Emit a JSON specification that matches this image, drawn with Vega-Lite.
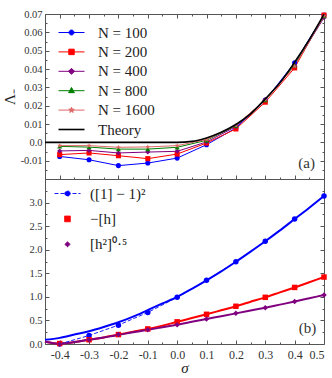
{
  "$schema": "https://vega.github.io/schema/vega-lite/v6.json",
  "padding": {"left": 1, "top": 8, "right": 4, "bottom": 0},
  "spacing": 0,
  "bounds": "flush",
  "config": {
    "font": "Liberation Serif",
    "view": {"stroke": "#555", "strokeWidth": 1},
    "axis": {"grid": false, "domain": false, "tickColor": "#555", "tickWidth": 1, "labelFont": "Liberation Serif", "titleFont": "Liberation Serif", "labelColor": "#333", "titleColor": "#222", "titleFontWeight": "normal"},
    "legend": {"labelFont": "Liberation Serif", "labelColor": "#222"},
    "text": {"font": "Liberation Serif"}
  },
  "resolve": {"scale": {"color": "independent", "shape": "independent"}, "legend": {"color": "independent", "shape": "independent"}},
  "datasets": {
    "top": [
      {"s": -0.4, "series": "N = 100", "v": -0.0077}, {"s": -0.3, "series": "N = 100", "v": -0.0095}, {"s": -0.2, "series": "N = 100", "v": -0.0127}, {"s": -0.1, "series": "N = 100", "v": -0.0113}, {"s": 0.0, "series": "N = 100", "v": -0.0086}, {"s": 0.1, "series": "N = 100", "v": -0.0013}, {"s": 0.2, "series": "N = 100", "v": 0.0078}, {"s": 0.3, "series": "N = 100", "v": 0.023}, {"s": 0.4, "series": "N = 100", "v": 0.0434}, {"s": 0.5, "series": "N = 100", "v": 0.0694},
      {"s": -0.4, "series": "N = 200", "v": -0.0067}, {"s": -0.3, "series": "N = 200", "v": -0.0058}, {"s": -0.2, "series": "N = 200", "v": -0.0073}, {"s": -0.1, "series": "N = 200", "v": -0.0089}, {"s": 0.0, "series": "N = 200", "v": -0.0064}, {"s": 0.1, "series": "N = 200", "v": -0.0004}, {"s": 0.2, "series": "N = 200", "v": 0.0073}, {"s": 0.3, "series": "N = 200", "v": 0.0219}, {"s": 0.4, "series": "N = 200", "v": 0.0406}, {"s": 0.5, "series": "N = 200", "v": 0.0694},
      {"s": -0.4, "series": "N = 400", "v": -0.0047}, {"s": -0.3, "series": "N = 400", "v": -0.0044}, {"s": -0.2, "series": "N = 400", "v": -0.0058}, {"s": -0.1, "series": "N = 400", "v": -0.0053}, {"s": 0.0, "series": "N = 400", "v": -0.0049}, {"s": 0.1, "series": "N = 400", "v": 0.0002}, {"s": 0.2, "series": "N = 400", "v": 0.0086}, {"s": 0.3, "series": "N = 400", "v": 0.0233}, {"s": 0.4, "series": "N = 400", "v": 0.042}, {"s": 0.5, "series": "N = 400", "v": 0.068},
      {"s": -0.4, "series": "N = 800", "v": -0.0022}, {"s": -0.3, "series": "N = 800", "v": -0.0026}, {"s": -0.2, "series": "N = 800", "v": -0.0037}, {"s": -0.1, "series": "N = 800", "v": -0.0037}, {"s": 0.0, "series": "N = 800", "v": -0.0027}, {"s": 0.1, "series": "N = 800", "v": 0.0011}, {"s": 0.2, "series": "N = 800", "v": 0.0091}, {"s": 0.3, "series": "N = 800", "v": 0.023}, {"s": 0.4, "series": "N = 800", "v": 0.042}, {"s": 0.5, "series": "N = 800", "v": 0.0689},
      {"s": -0.4, "series": "N = 1600", "v": -0.0018}, {"s": -0.3, "series": "N = 1600", "v": -0.0018}, {"s": -0.2, "series": "N = 1600", "v": -0.0027}, {"s": -0.1, "series": "N = 1600", "v": -0.0025}, {"s": 0.0, "series": "N = 1600", "v": -0.0018}, {"s": 0.1, "series": "N = 1600", "v": 0.0015}, {"s": 0.2, "series": "N = 1600", "v": 0.0092}, {"s": 0.3, "series": "N = 1600", "v": 0.0232}, {"s": 0.4, "series": "N = 1600", "v": 0.0415}, {"s": 0.5, "series": "N = 1600", "v": 0.069}
    ],
    "theory": [
      {"s": -0.45, "series": "Theory", "v": 0}, {"s": -0.3, "series": "Theory", "v": 0}, {"s": -0.15, "series": "Theory", "v": 0}, {"s": 0.0, "series": "Theory", "v": 0},
      {"s": 0.05, "series": "Theory", "v": 0.0005}, {"s": 0.1, "series": "Theory", "v": 0.0024}, {"s": 0.15, "series": "Theory", "v": 0.0055}, {"s": 0.2, "series": "Theory", "v": 0.0097}, {"s": 0.25, "series": "Theory", "v": 0.0155}, {"s": 0.3, "series": "Theory", "v": 0.0237}, {"s": 0.35, "series": "Theory", "v": 0.0325}, {"s": 0.4, "series": "Theory", "v": 0.0437}, {"s": 0.45, "series": "Theory", "v": 0.056}, {"s": 0.5, "series": "Theory", "v": 0.0698}
    ],
    "bpts": [
      {"s": -0.4, "series": "([1] − 1)²", "v": 0.0}, {"s": -0.3, "series": "([1] − 1)²", "v": 0.18}, {"s": -0.2, "series": "([1] − 1)²", "v": 0.4}, {"s": -0.1, "series": "([1] − 1)²", "v": 0.67}, {"s": 0.0, "series": "([1] − 1)²", "v": 0.99}, {"s": 0.1, "series": "([1] − 1)²", "v": 1.35}, {"s": 0.2, "series": "([1] − 1)²", "v": 1.745}, {"s": 0.3, "series": "([1] − 1)²", "v": 2.18}, {"s": 0.4, "series": "([1] − 1)²", "v": 2.65}, {"s": 0.5, "series": "([1] − 1)²", "v": 3.14},
      {"s": -0.4, "series": "−[h]", "v": 0.01}, {"s": -0.3, "series": "−[h]", "v": 0.09}, {"s": -0.2, "series": "−[h]", "v": 0.2}, {"s": -0.1, "series": "−[h]", "v": 0.32}, {"s": 0.0, "series": "−[h]", "v": 0.47}, {"s": 0.1, "series": "−[h]", "v": 0.63}, {"s": 0.2, "series": "−[h]", "v": 0.8}, {"s": 0.3, "series": "−[h]", "v": 0.99}, {"s": 0.4, "series": "−[h]", "v": 1.2}, {"s": 0.5, "series": "−[h]", "v": 1.42},
      {"s": -0.4, "series": "[h²]⁰·⁵", "v": 0.0}, {"s": -0.3, "series": "[h²]⁰·⁵", "v": 0.09}, {"s": -0.2, "series": "[h²]⁰·⁵", "v": 0.2}, {"s": -0.1, "series": "[h²]⁰·⁵", "v": 0.3}, {"s": 0.0, "series": "[h²]⁰·⁵", "v": 0.41}, {"s": 0.1, "series": "[h²]⁰·⁵", "v": 0.53}, {"s": 0.2, "series": "[h²]⁰·⁵", "v": 0.65}, {"s": 0.3, "series": "[h²]⁰·⁵", "v": 0.77}, {"s": 0.4, "series": "[h²]⁰·⁵", "v": 0.9}, {"s": 0.5, "series": "[h²]⁰·⁵", "v": 1.04}
    ],
    "bcur": [
      {"s": -0.45, "series": "A", "v": 0.09}, {"s": -0.4, "series": "A", "v": 0.13}, {"s": -0.35, "series": "A", "v": 0.2}, {"s": -0.3, "series": "A", "v": 0.27}, {"s": -0.25, "series": "A", "v": 0.36}, {"s": -0.2, "series": "A", "v": 0.46}, {"s": -0.15, "series": "A", "v": 0.58}, {"s": -0.1, "series": "A", "v": 0.72}, {"s": -0.05, "series": "A", "v": 0.86}, {"s": 0.0, "series": "A", "v": 1.0}, {"s": 0.05, "series": "A", "v": 1.17}, {"s": 0.1, "series": "A", "v": 1.35}, {"s": 0.15, "series": "A", "v": 1.54}, {"s": 0.2, "series": "A", "v": 1.745}, {"s": 0.25, "series": "A", "v": 1.96}, {"s": 0.3, "series": "A", "v": 2.18}, {"s": 0.35, "series": "A", "v": 2.41}, {"s": 0.4, "series": "A", "v": 2.65}, {"s": 0.45, "series": "A", "v": 2.89}, {"s": 0.5, "series": "A", "v": 3.14},
      {"s": -0.45, "series": "B", "v": 0.05}, {"s": -0.4, "series": "B", "v": 0.01}, {"s": -0.35, "series": "B", "v": 0.04}, {"s": -0.3, "series": "B", "v": 0.09}, {"s": -0.25, "series": "B", "v": 0.14}, {"s": -0.2, "series": "B", "v": 0.2}, {"s": -0.15, "series": "B", "v": 0.26}, {"s": -0.1, "series": "B", "v": 0.32}, {"s": -0.05, "series": "B", "v": 0.39}, {"s": 0.0, "series": "B", "v": 0.47}, {"s": 0.05, "series": "B", "v": 0.55}, {"s": 0.1, "series": "B", "v": 0.63}, {"s": 0.15, "series": "B", "v": 0.715}, {"s": 0.2, "series": "B", "v": 0.8}, {"s": 0.25, "series": "B", "v": 0.895}, {"s": 0.3, "series": "B", "v": 0.99}, {"s": 0.35, "series": "B", "v": 1.095}, {"s": 0.4, "series": "B", "v": 1.2}, {"s": 0.45, "series": "B", "v": 1.31}, {"s": 0.5, "series": "B", "v": 1.42},
      {"s": -0.45, "series": "C", "v": 0.05}, {"s": -0.4, "series": "C", "v": 0.01}, {"s": -0.35, "series": "C", "v": 0.04}, {"s": -0.3, "series": "C", "v": 0.09}, {"s": -0.25, "series": "C", "v": 0.14}, {"s": -0.2, "series": "C", "v": 0.19}, {"s": -0.15, "series": "C", "v": 0.25}, {"s": -0.1, "series": "C", "v": 0.3}, {"s": -0.05, "series": "C", "v": 0.355}, {"s": 0.0, "series": "C", "v": 0.41}, {"s": 0.05, "series": "C", "v": 0.47}, {"s": 0.1, "series": "C", "v": 0.53}, {"s": 0.15, "series": "C", "v": 0.59}, {"s": 0.2, "series": "C", "v": 0.65}, {"s": 0.25, "series": "C", "v": 0.71}, {"s": 0.3, "series": "C", "v": 0.77}, {"s": 0.35, "series": "C", "v": 0.835}, {"s": 0.4, "series": "C", "v": 0.9}, {"s": 0.45, "series": "C", "v": 0.97}, {"s": 0.5, "series": "C", "v": 1.04}
    ]
  },
  "vconcat": [
    {
      "width": 279, "height": 165,
      "resolve": {"axis": {"x": "independent", "y": "independent"}},
      "layer": [
        {"data": {"name": "top"}, "mark": {"type": "point", "opacity": 0},
         "encoding": {
           "x": {"field": "s", "type": "quantitative", "scale": {"domain": [-0.45, 0.5], "nice": false, "zero": false},
                 "axis": {"orient": "bottom", "labels": false, "title": null, "values": [-0.4, -0.3, -0.2, -0.1, 0, 0.1, 0.2, 0.3, 0.4, 0.5], "tickSize": -4}},
           "y": {"field": "v", "type": "quantitative", "scale": {"domain": [-0.02, 0.07], "nice": false, "zero": false},
                 "axis": {"orient": "left", "title": "Λ₋", "titleFont": "Liberation Serif", "titleFontSize": 15, "titlePadding": 3, "values": [-0.01, 0, 0.01, 0.02, 0.03, 0.04, 0.05, 0.06, 0.07], "tickSize": -4, "labelFont": "Liberation Serif", "labelFontSize": 10.5, "labelPadding": 7, "labelExpr": "datum.value == 0 ? '0.0' : replace(format(datum.value, '.2f'), '−', '-')"}}
         }},
        {"data": {"name": "top"}, "mark": {"type": "point", "opacity": 0},
         "encoding": {
           "x": {"field": "s", "type": "quantitative", "axis": {"orient": "top", "labels": false, "title": null, "values": [-0.4, -0.3, -0.2, -0.1, 0, 0.1, 0.2, 0.3, 0.4, 0.5], "tickSize": -4}},
           "y": {"field": "v", "type": "quantitative", "axis": {"orient": "right", "labels": false, "title": null, "values": [-0.01, 0, 0.01, 0.02, 0.03, 0.04, 0.05, 0.06], "tickSize": -4}}
         }},
        {"data": {"name": "top"}, "mark": {"type": "point", "opacity": 0},
         "encoding": {
           "x": {"field": "s", "type": "quantitative", "axis": {"orient": "bottom", "labels": false, "title": null, "values": [-0.45, -0.35, -0.25, -0.15, -0.05, 0.05, 0.15, 0.25, 0.35, 0.45], "tickSize": -2}},
           "y": {"field": "v", "type": "quantitative", "axis": {"orient": "left", "labels": false, "title": null, "values": [-0.015, -0.005, 0.005, 0.015, 0.025, 0.035, 0.045, 0.055, 0.065], "tickSize": -2}}
         }},
        {"data": {"name": "top"}, "mark": {"type": "point", "opacity": 0},
         "encoding": {
           "x": {"field": "s", "type": "quantitative", "axis": {"orient": "top", "labels": false, "title": null, "values": [-0.45, -0.35, -0.25, -0.15, -0.05, 0.05, 0.15, 0.25, 0.35, 0.45], "tickSize": -2}},
           "y": {"field": "v", "type": "quantitative", "axis": {"orient": "right", "labels": false, "title": null, "values": [-0.015, -0.005, 0.005, 0.015, 0.025, 0.035, 0.045, 0.055, 0.065], "tickSize": -2}}
         }},
        {"data": {"name": "top"}, "mark": {"type": "line", "strokeWidth": 1},
         "encoding": {
           "x": {"field": "s", "type": "quantitative", "axis": null},
           "y": {"field": "v", "type": "quantitative", "axis": null},
           "color": {"field": "series", "type": "nominal",
             "scale": {"domain": ["N = 100", "N = 200", "N = 400", "N = 800", "N = 1600", "Theory"], "range": ["#0000ff", "#ff0000", "#800080", "#008000", "#e06666", "#000000"]},
             "legend": {"orient": "none", "legendX": 19, "legendY": 11, "title": null, "padding": 0, "symbolSize": 36, "labelOffset": 19, "rowPadding": 3.4, "labelFont": "Liberation Serif", "labelFontSize": 15, "labelLimit": 200,
               "encoding": {"symbols": {
                 "shape": {"value": {"expr": "['M-1,0H1M0.19,0A0.19,0.19,0,1,1,-0.19,0A0.19,0.19,0,1,1,0.19,0Z','M-1,0H1M-0.21,-0.21H0.21V0.21H-0.21Z','M-1,0H1M0,-0.23L0.23,0L0,0.23L-0.23,0Z','M-1,0H1M0,-0.25L0.22,0.15L-0.22,0.15Z','M-1,0H1M0,-0.22L0.053,-0.073L0.209,-0.068L0.086,0.028L0.129,0.178L0,0.09L-0.129,0.178L-0.086,0.028L-0.209,-0.068L-0.053,-0.073Z','M-1,0H1'][indexof(['N = 100','N = 200','N = 400','N = 800','N = 1600','Theory'], datum.value)]"}},
                 "size": {"value": 676},
                 "fill": {"value": {"expr": "['#0000ff','#ff0000','#800080','#008000','#e06666','#000000'][indexof(['N = 100','N = 200','N = 400','N = 800','N = 1600','Theory'], datum.value)]"}},
                 "stroke": {"value": {"expr": "['#0000ff','#ff0000','#800080','#008000','#e06666','#000000'][indexof(['N = 100','N = 200','N = 400','N = 800','N = 1600','Theory'], datum.value)]"}},
                 "strokeWidth": {"value": {"expr": "datum.value == 'Theory' ? 1.6 : 1"}},
                 "opacity": {"value": 1}
               }}
             }}
         }},
        {"data": {"name": "top"}, "mark": {"type": "point", "filled": true, "size": 26, "opacity": 1},
         "encoding": {
           "x": {"field": "s", "type": "quantitative", "axis": null},
           "y": {"field": "v", "type": "quantitative", "axis": null},
           "color": {"field": "series", "type": "nominal", "legend": null},
           "shape": {"field": "series", "type": "nominal", "legend": null,
             "scale": {"domain": ["N = 100", "N = 200", "N = 400", "N = 800", "N = 1600"], "range": ["circle", "square", "diamond", "triangle-up", "M0,-1L0.24,-0.33L0.95,-0.31L0.39,0.13L0.59,0.81L0,0.41L-0.59,0.81L-0.39,0.13L-0.95,-0.31L-0.24,-0.33Z"]}}
         }},
        {"data": {"name": "theory"}, "mark": {"type": "line", "strokeWidth": 1.6, "interpolate": "monotone"},
         "encoding": {
           "x": {"field": "s", "type": "quantitative", "axis": null},
           "y": {"field": "v", "type": "quantitative", "axis": null},
           "color": {"field": "series", "type": "nominal", "legend": null}
         }},
        {"data": {"values": [{}]}, "mark": {"type": "text", "font": "Liberation Serif", "fontSize": 15, "color": "#333"},
         "encoding": {
           "x": {"datum": 0.441, "type": "quantitative", "axis": null},
           "y": {"datum": -0.0111, "type": "quantitative", "axis": null},
           "text": {"value": "(a)"}
         }}
      ]
    },
    {
      "width": 279, "height": 165,
      "resolve": {"axis": {"x": "independent", "y": "independent"}},
      "layer": [
        {"data": {"name": "bpts"}, "mark": {"type": "point", "opacity": 0},
         "encoding": {
           "x": {"field": "s", "type": "quantitative", "scale": {"domain": [-0.45, 0.5], "nice": false, "zero": false},
                 "axis": {"orient": "bottom", "title": "σ", "titleFont": "Liberation Serif", "titleFontStyle": "italic", "titleFontSize": 15, "titlePadding": 0, "values": [-0.4, -0.3, -0.2, -0.1, 0, 0.1, 0.2, 0.3, 0.4, 0.5], "tickSize": -4, "labelFont": "Liberation Serif", "labelFontSize": 12, "labelPadding": 9, "labelExpr": "replace(format(datum.value, '.1f'), '−', '-')"}},
           "y": {"field": "v", "type": "quantitative", "scale": {"domain": [0, 3.5], "nice": false, "zero": false},
                 "axis": {"orient": "left", "title": null, "values": [0, 0.5, 1, 1.5, 2, 2.5, 3], "tickSize": -4, "labelFont": "Liberation Serif", "labelFontSize": 10.5, "labelPadding": 7, "labelExpr": "format(datum.value, '.1f')"}}
         }},
        {"data": {"name": "bpts"}, "mark": {"type": "point", "opacity": 0},
         "encoding": {
           "x": {"field": "s", "type": "quantitative", "axis": {"orient": "bottom", "labels": false, "title": null, "values": [-0.45, -0.35, -0.25, -0.15, -0.05, 0.05, 0.15, 0.25, 0.35, 0.45], "tickSize": -2}},
           "y": {"field": "v", "type": "quantitative", "axis": {"orient": "right", "labels": false, "title": null, "values": [0.5, 1, 1.5, 2, 2.5, 3], "tickSize": -4}}
         }},
        {"data": {"name": "bpts"}, "mark": {"type": "point", "opacity": 0},
         "encoding": {
           "x": {"field": "s", "type": "quantitative", "axis": null},
           "y": {"field": "v", "type": "quantitative", "axis": {"orient": "left", "labels": false, "title": null, "values": [0.25, 0.75, 1.25, 1.75, 2.25, 2.75, 3.25], "tickSize": -2}}
         }},
        {"data": {"name": "bpts"}, "mark": {"type": "point", "opacity": 0},
         "encoding": {
           "x": {"field": "s", "type": "quantitative", "axis": null},
           "y": {"field": "v", "type": "quantitative", "axis": {"orient": "right", "labels": false, "title": null, "values": [0.25, 0.75, 1.25, 1.75, 2.25, 2.75, 3.25], "tickSize": -2}}
         }},
        {"data": {"name": "bcur"}, "mark": {"type": "line", "strokeWidth": 2, "interpolate": "monotone"},
         "encoding": {
           "x": {"field": "s", "type": "quantitative", "axis": null},
           "y": {"field": "v", "type": "quantitative", "axis": null},
           "stroke": {"field": "series", "type": "nominal", "legend": null, "scale": {"domain": ["A", "B", "C"], "range": ["#0000ff", "#ff0000", "#800080"]}}
         }},
        {"data": {"name": "bpts"}, "transform": [{"filter": {"field": "series", "equal": "([1] − 1)²"}}],
         "mark": {"type": "line", "strokeWidth": 0.9, "strokeDash": [4, 2]},
         "encoding": {
           "x": {"field": "s", "type": "quantitative", "axis": null},
           "y": {"field": "v", "type": "quantitative", "axis": null},
           "color": {"field": "series", "type": "nominal",
             "scale": {"domain": ["([1] − 1)²", "−[h]", "[h²]⁰·⁵"], "range": ["#0000ff", "#ff0000", "#800080"]},
             "legend": {"orient": "none", "legendX": 9, "legendY": 1, "title": null, "padding": 0, "symbolSize": 36, "labelOffset": 9, "rowPadding": 3.4, "labelFont": "Liberation Serif", "labelFontSize": 15, "labelLimit": 200,
               "encoding": {"symbols": {
                 "shape": {"value": {"expr": "['M-1,0H1M0.2,0A0.2,0.2,0,1,1,-0.2,0A0.2,0.2,0,1,1,0.2,0Z','M-0.22,-0.22H0.22V0.22H-0.22Z','M0,-0.2L0.2,0L0,0.2L-0.2,0Z'][indexof(['([1] − 1)²','−[h]','[h²]⁰·⁵'], datum.value)]"}},
                 "size": {"value": 676},
                 "fill": {"value": {"expr": "['#0000ff','#ff0000','#800080'][indexof(['([1] − 1)²','−[h]','[h²]⁰·⁵'], datum.value)]"}},
                 "stroke": {"value": {"expr": "['#0000ff','#ff0000','#800080'][indexof(['([1] − 1)²','−[h]','[h²]⁰·⁵'], datum.value)]"}},
                 "strokeWidth": {"value": 0.9},
                 "strokeDash": {"value": {"expr": "datum.value == '([1] − 1)²' ? [4, 2] : [1, 0]"}},
                 "opacity": {"value": 1}
               }}
             }}
         }},
        {"data": {"name": "bpts"}, "transform": [{"filter": {"field": "series", "equal": "([1] − 1)²"}}],
         "mark": {"type": "point", "shape": "circle", "filled": true, "size": 30, "opacity": 1, "color": "#0000ff"},
         "encoding": {
           "x": {"field": "s", "type": "quantitative", "axis": null},
           "y": {"field": "v", "type": "quantitative", "axis": null}
         }},
        {"data": {"name": "bpts"}, "transform": [{"filter": {"field": "series", "equal": "−[h]"}}],
         "mark": {"type": "point", "shape": "square", "filled": true, "size": 30, "opacity": 1, "color": "#ff0000"},
         "encoding": {
           "x": {"field": "s", "type": "quantitative", "axis": null},
           "y": {"field": "v", "type": "quantitative", "axis": null}
         }},
        {"data": {"name": "bpts"}, "transform": [{"filter": {"field": "series", "equal": "[h²]⁰·⁵"}}],
         "mark": {"type": "point", "shape": "diamond", "filled": true, "size": 30, "opacity": 1, "color": "#800080"},
         "encoding": {
           "x": {"field": "s", "type": "quantitative", "axis": null},
           "y": {"field": "v", "type": "quantitative", "axis": null}
         }},
        {"data": {"values": [{}]}, "mark": {"type": "text", "font": "Liberation Serif", "fontSize": 15, "color": "#333"},
         "encoding": {
           "x": {"datum": 0.444, "type": "quantitative", "axis": null},
           "y": {"datum": 0.347, "type": "quantitative", "axis": null},
           "text": {"value": "(b)"}
         }}
      ]
    }
  ]
}
